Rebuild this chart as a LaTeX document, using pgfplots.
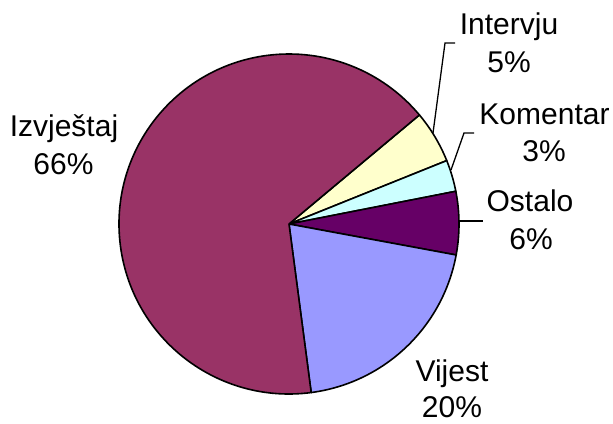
\documentclass[border=0pt]{standalone}
\usepackage{fontspec}
\setmainfont{Liberation Sans}
\usepackage{pgfplots}
\pgfplotsset{compat=1.18}
\definecolor{cIzv}{HTML}{993366}
\definecolor{cInt}{HTML}{FFFFCC}
\definecolor{cKom}{HTML}{CCFFFF}
\definecolor{cOst}{HTML}{660066}
\definecolor{cVij}{HTML}{9999FF}
\tikzset{lbl/.style={font=\fontsize{30bp}{36bp}\selectfont, anchor=base, inner sep=0pt}}
% #1 cumulative percent before slice, #2 slice percent, #3 colour
\newcommand{\slice}[3]{%
  \filldraw[fill=#3, draw=black, line width=1.6bp, line join=round]
    (axis cs:289,200) -- ++({39.9-#1*3.6}:170bp)
    arc[start angle={39.9-#1*3.6}, end angle={39.9-(#1+#2)*3.6}, radius=170bp] -- cycle;}
\begin{document}
\begin{tikzpicture}
\begin{axis}[hide axis, scale only axis, width=613bp, height=424bp,
  xmin=0, xmax=613, ymin=0, ymax=424, clip=false]
\slice{0}{5}{cInt}
\slice{5}{3}{cKom}
\slice{8}{6}{cOst}
\slice{14}{20}{cVij}
\slice{34}{66}{cIzv}
% leader lines
\draw[line width=1.3bp] (axis cs:455,381) -- (axis cs:445,381) -- (axis cs:433,291);
\draw[line width=1.3bp] (axis cs:474,291) -- (axis cs:464,291) -- (axis cs:451,254);
\draw[line width=1.3bp] (axis cs:459,203) -- (axis cs:483,203);
% labels
\node[lbl] at (axis cs:64,287) {Izvještaj};
\node[lbl] at (axis cs:63.5,249) {66\%};
\node[lbl] at (axis cs:509,389) {Intervju};
\node[lbl] at (axis cs:509,351) {5\%};
\node[lbl] at (axis cs:544.5,299) {Komentar};
\node[lbl] at (axis cs:544,262) {3\%};
\node[lbl] at (axis cs:530,212) {Ostalo};
\node[lbl] at (axis cs:531,174) {6\%};
\node[lbl] at (axis cs:452,42) {Vijest};
\node[lbl] at (axis cs:452,7) {20\%};
\end{axis}
\pgfresetboundingbox
\path (0,0) rectangle (613bp,424bp);
\end{tikzpicture}
\end{document}
